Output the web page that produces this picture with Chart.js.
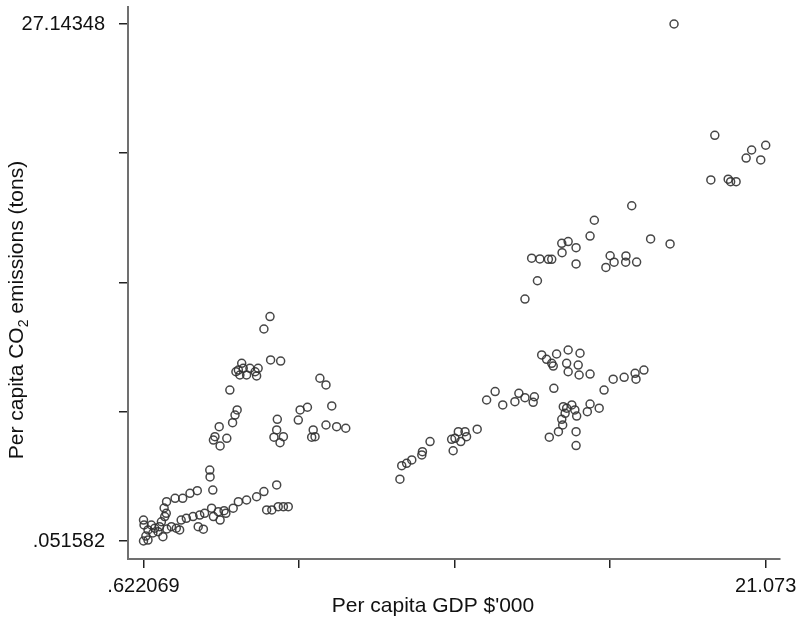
<!DOCTYPE html>
<html>
<head>
<meta charset="utf-8">
<script src="https://cdn.jsdelivr.net/npm/chart.js@4/dist/chart.umd.min.js"></script>
<style>
  html, body { margin: 0; padding: 0; background: #ffffff; }
  #wrap { width: 806px; height: 619px; }
</style>
</head>
<body>
<div id="wrap"><canvas id="c" width="806" height="619"></canvas></div>
<script>
// Per capita GDP ($'000) for each observation
const gdp = [
  18.06, 19.40, 20.61, 21.073, 20.43, 20.91, 19.27, 19.84, 19.92, 20.10,
  16.67, 15.44, 15.30, 17.29, 17.93, 14.37, 14.58, 14.84, 14.38, 13.38,
  13.65, 13.93, 14.04, 14.84, 15.96, 16.09, 15.82, 16.48, 16.47, 16.83,
  13.57, 13.16, 13.71, 13.87, 14.04, 14.09, 14.20, 14.58, 14.97, 14.53,
  14.58, 14.91, 14.94, 15.30, 16.06, 16.42, 16.78, 16.81, 17.07, 15.76,
  14.11, 12.96, 13.16, 13.47, 13.43, 12.83, 12.43, 14.42, 14.53, 14.70,
  14.80, 14.48, 14.86, 14.37, 15.30, 15.21, 15.60, 14.26, 13.96, 14.40,
  14.84, 14.84, 12.18, 11.90, 11.59, 10.97, 11.19, 10.86, 11.05, 10.75,
  11.24, 10.80, 10.04, 9.79, 9.77, 9.44, 9.27, 9.11, 9.05, 4.78,
  4.58, 4.80, 5.13, 3.85, 3.74, 3.66, 3.90, 4.01, 4.12, 4.29,
  4.39, 4.34, 3.79, 3.46, 3.70, 3.63, 3.55, 6.42, 6.62, 6.81,
  5.77, 6.01, 5.71, 6.62, 6.97, 7.27, 5.02, 5.00, 4.91, 5.22,
  5.11, 6.20, 6.26, 6.15, 3.11, 2.97, 2.92, 3.36, 3.14, 2.80,
  2.81, 2.90, 1.38, 1.66, 1.91, 2.15, 2.39, 3.57, 3.74, 4.01,
  4.34, 4.58, 5.00, 4.67, 4.84, 5.05, 5.22, 5.38, 2.86, 2.92,
  3.08, 3.14, 3.33, 3.27, 2.42, 2.59, 1.86, 2.03, 2.25, 2.47,
  2.63, 0.622069, 0.64, 0.70, 0.622069, 0.77, 0.88, 0.99, 1.15, 1.21,
  1.32, 1.37, 1.10, 1.26, 1.54, 1.70, 1.81, 0.93, 1.39, 0.77, 1.30
];

// Per capita CO2 emissions (tons), same order as gdp
const co2 = [
  27.14348, 21.31, 20.54, 20.79, 20.12, 20.02, 18.97, 19.01, 18.88, 18.88,
  17.62, 16.86, 16.03, 15.88, 15.62, 15.65, 15.74, 15.42, 15.16, 14.87,
  14.83, 14.81, 14.81, 14.57, 15.00, 14.66, 14.39, 14.99, 14.66, 14.67,
  13.69, 12.73, 9.80, 9.57, 9.36, 9.22, 9.85, 10.06, 9.89, 9.36,
  8.92, 9.27, 8.75, 8.80, 8.53, 8.63, 8.84, 8.53, 9.01, 7.96,
  8.05, 7.79, 7.56, 7.61, 7.32, 7.35, 7.18, 7.09, 7.01, 7.18,
  6.92, 6.74, 6.60, 6.43, 7.23, 6.83, 7.01, 5.78, 5.49, 6.13,
  5.78, 5.05, 7.88, 7.44, 5.91, 5.78, 5.78, 5.43, 5.26, 5.38,
  5.52, 4.78, 5.26, 4.73, 4.56, 4.30, 4.12, 4.00, 3.29, 11.81,
  11.16, 9.54, 9.48, 9.36, 9.01, 8.92, 9.10, 8.75, 9.10, 8.92,
  9.10, 8.70, 8.75, 7.96, 6.92, 6.65, 6.25, 8.58, 8.23, 7.13,
  6.92, 7.06, 6.39, 6.13, 6.04, 5.96, 6.43, 5.87, 5.49, 5.52,
  5.20, 5.87, 5.52, 5.49, 6.04, 5.52, 5.34, 5.43, 5.03, 3.77,
  3.41, 2.72, 2.11, 2.29, 2.29, 2.55, 2.69, 1.77, 2.11, 2.20,
  2.37, 2.64, 2.99, 1.68, 1.68, 1.85, 1.85, 1.85, 1.77, 1.33,
  1.59, 1.15, 1.50, 1.64, 0.80, 0.67, 1.15, 1.24, 1.33, 1.41,
  1.50, 1.15, 0.89, 0.31, 0.051582, 0.10, 0.89, 0.72, 0.80, 1.06,
  1.33, 1.50, 0.54, 0.28, 0.80, 0.72, 0.63, 0.47, 0.68, 0.63, 1.78
];

// Axis ticks: minimum, three evenly spaced interior ticks, maximum
const xTicks = [0.622069, 5.734802, 10.847534, 15.960267, 21.073];
const xTickLabels = ['.622069', '', '', '', '21.073'];
const yTicks = [0.051582, 6.824557, 13.597531, 20.370506, 27.14348];
const yTickLabels = ['.051582', '', '', '', '27.14348'];

const xTitle = "Per capita GDP $'000";
const yTitleMain = 'Per capita CO';
const yTitleSub = '2';
const yTitleRest = ' emissions (tons)';

const FONT = '"Liberation Sans", Arial, Helvetica, sans-serif';

const points = gdp.map((g, i) => ({ x: g, y: co2[i] }));

// Draws both axis titles (the y title carries a subscript 2)
const axisTitles = {
  id: 'axisTitles',
  afterDraw(chart) {
    const ctx = chart.ctx;
    ctx.save();
    ctx.fillStyle = '#111111';
    ctx.font = '21px ' + FONT;
    ctx.textAlign = 'center';
    ctx.textBaseline = 'alphabetic';
    ctx.fillText(xTitle, 433, 612);

    // vertical title, reading bottom to top
    ctx.translate(23, 310);
    ctx.rotate(-Math.PI / 2);
    ctx.font = '21px ' + FONT;
    const w1 = ctx.measureText(yTitleMain).width;
    ctx.font = '14px ' + FONT;
    const w2 = ctx.measureText(yTitleSub).width;
    ctx.font = '21px ' + FONT;
    const w3 = ctx.measureText(yTitleRest).width;
    const total = w1 + w2 + w3;
    let x = -total / 2;
    ctx.textAlign = 'left';
    ctx.fillText(yTitleMain, x, 0);
    x += w1;
    ctx.font = '14px ' + FONT;
    ctx.fillText(yTitleSub, x, 5);
    x += w2;
    ctx.font = '21px ' + FONT;
    ctx.fillText(yTitleRest, x, 0);
    ctx.restore();
  }
};

function noEdgePadding(scale) {
  scale.paddingTop = 0;
  scale.paddingBottom = 0;
  scale.paddingLeft = 0;
  scale.paddingRight = 0;
}

new Chart(document.getElementById('c'), {
  type: 'scatter',
  data: {
    datasets: [{
      data: points,
      pointRadius: 4,
      pointHoverRadius: 4,
      pointBorderWidth: 1.5,
      pointBorderColor: 'rgba(50,50,50,0.9)',
      pointBackgroundColor: 'rgba(0,0,0,0)',
      showLine: false,
      clip: false
    }]
  },
  options: {
    responsive: false,
    animation: false,
    devicePixelRatio: 1,
    layout: { padding: { top: 7, right: 26, left: 0, bottom: 0 } },
    plugins: {
      legend: { display: false },
      tooltip: { enabled: false }
    },
    scales: {
      x: {
        type: 'linear',
        min: 0.1126,
        max: 21.543,
        afterBuildTicks(scale) { scale.ticks = xTicks.map(v => ({ value: v })); },
        afterFit(scale) { scale.height = 60; noEdgePadding(scale); },
        ticks: {
          autoSkip: false,
          maxRotation: 0,
          padding: 6,
          color: '#111111',
          font: { family: FONT, size: 20 },
          callback(value, index) { return xTickLabels[index]; }
        },
        grid: {
          drawOnChartArea: false,
          drawTicks: true,
          tickLength: 9,
          tickColor: '#222222',
          lineWidth: 1.5
        },
        border: { display: true, color: '#707070', width: 2 }
      },
      y: {
        type: 'linear',
        min: -0.8917,
        max: 28.0343,
        afterBuildTicks(scale) { scale.ticks = yTicks.map(v => ({ value: v })); },
        afterFit(scale) { scale.width = 128; noEdgePadding(scale); },
        ticks: {
          autoSkip: false,
          padding: 14,
          color: '#111111',
          font: { family: FONT, size: 20 },
          callback(value, index) { return yTickLabels[index]; }
        },
        grid: {
          drawOnChartArea: false,
          drawTicks: true,
          tickLength: 9,
          tickColor: '#222222',
          lineWidth: 1.5
        },
        border: { display: true, color: '#707070', width: 2 }
      }
    }
  },
  plugins: [axisTitles]
});
</script>
</body>
</html>
